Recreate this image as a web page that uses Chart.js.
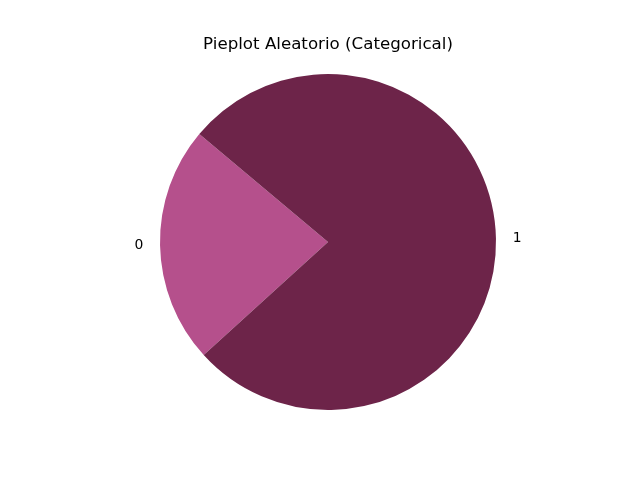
<!DOCTYPE html>
<html><head><meta charset="utf-8">
<script src="https://cdn.jsdelivr.net/npm/chart.js@4/dist/chart.umd.min.js"></script>
<style>html,body{margin:0;padding:0;background:#fff;}#wrap{width:640px;height:480px;}</style>
</head><body><div id="wrap"><canvas id="c" width="640" height="480"></canvas></div>
<script>
const categories = ["0", "1"];
const counts = [8, 27];
const colors = ["#b5508c", "#6d2449"];
const titleText = "Pieplot Aleatorio (Categorical)";

const overlay = {
  id: 'overlay',
  afterDraw(chart) {
    const ctx = chart.ctx;
    ctx.save();
    ctx.fillStyle = '#000';
    ctx.font = '16.67px "DejaVu Sans"';
    ctx.textAlign = 'center';
    ctx.textBaseline = 'alphabetic';
    const ca = chart.chartArea;
    ctx.fillText(titleText, (ca.left + ca.right) / 2, 49);
    ctx.font = '13.9px "DejaVu Sans"';
    ctx.textBaseline = 'middle';
    const meta = chart.getDatasetMeta(0);
    meta.data.forEach((arc, i) => {
      const p = arc.getProps(['x','y','startAngle','endAngle','outerRadius'], true);
      const mid = (p.startAngle + p.endAngle) / 2;
      const r = p.outerRadius * 1.1;
      const x = p.x + Math.cos(mid) * r;
      const y = p.y + Math.sin(mid) * r;
      ctx.textAlign = Math.cos(mid) < 0 ? 'right' : 'left';
      ctx.fillText(categories[i], x, y);
    });
    ctx.restore();
  }
};

new Chart(document.getElementById('c'), {
  type: 'pie',
  data: { labels: categories, datasets: [{ data: counts, backgroundColor: colors, borderWidth: 0 }] },
  options: {
    responsive: false,
    animation: false,
    rotation: -(140 + 360 * counts[0] / (counts[0] + counts[1])) + 90,
    layout: { padding: { left: 160, right: 144, top: 74, bottom: 70 } },
    plugins: { legend: { display: false }, tooltip: { enabled: false }, title: { display: false } }
  },
  plugins: [overlay]
});
</script></body></html>
